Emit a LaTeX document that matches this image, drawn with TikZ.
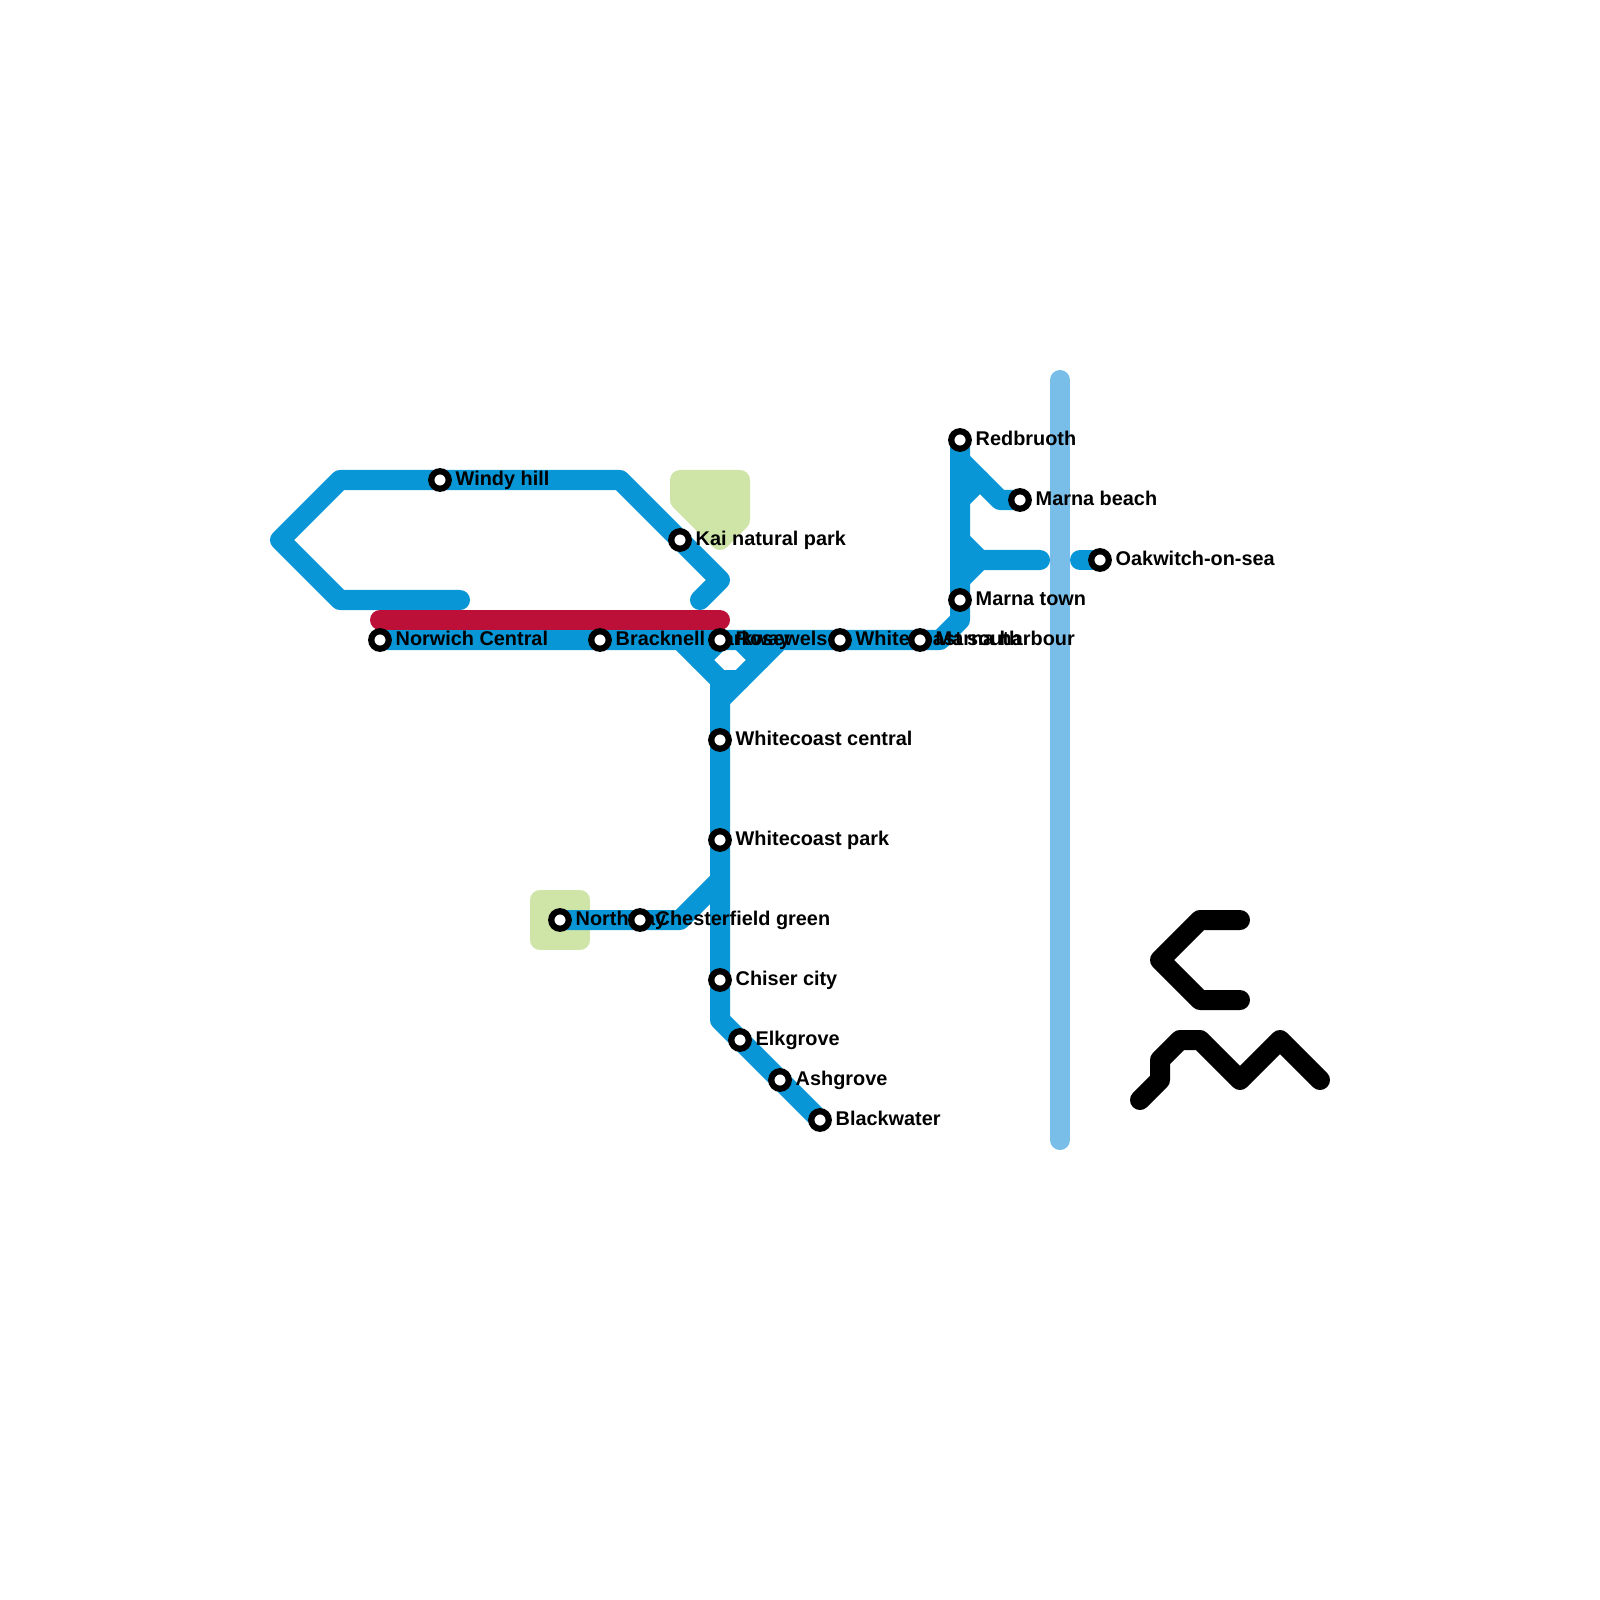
\documentclass[tikz,border=0pt]{standalone}
\usepackage{fontspec}
\setmainfont{Liberation Sans}
\definecolor{lineblue}{HTML}{0896D7}
\definecolor{linered}{HTML}{BD1038}
\definecolor{riverblue}{HTML}{79BDE9}
\definecolor{parkgreen}{HTML}{CFE4A7}
\tikzset{
  x=0.01cm,y=-0.01cm,
  route/.style={line width=0.2cm,line cap=round,line join=round},
  park/.style={draw=parkgreen,fill=parkgreen,line width=0.2cm,line join=round},
  stn/.style={circle,draw=black,fill=white,line width=0.062cm,minimum size=0.175cm,inner sep=0pt},
  lbl/.style={font=\fontsize{5.65pt}{7pt}\selectfont\bfseries,anchor=base west,inner sep=0pt,text=black,yshift=-0.055cm,xshift=0.15cm},
}
\begin{document}
\begin{tikzpicture}
\useasboundingbox (0,0) rectangle (1600,1600);
\draw[park] (680,480)--(740,480)--(740,520)--(720,540)--(680,500)--cycle;
\draw[park] (540,900)--(580,900)--(580,940)--(540,940)--cycle;
\draw[route,riverblue] (1060,380)--(1060,1140);
\begin{scope}[route,lineblue]
\draw (460,600)--(340,600)--(280,540)--(340,480)--(620,480)--(720,580)--(700,600);
\draw (380,640)--(940,640)--(960,620)--(960,440);
\draw (680,640)--(720,680)--(720,1020)--(820,1120);
\draw (720,640)--(700,660);
\draw (740,640)--(760,660);
\draw (780,640)--(720,700);
\draw (720,680)--(740,680);
\draw (560,920)--(680,920)--(720,880);
\draw (960,460)--(1000,500)--(1020,500);
\draw (960,500)--(980,480);
\draw (960,540)--(980,560)--(1040,560);
\draw (960,580)--(980,560);
\draw (1080,560)--(1100,560);
\end{scope}
\draw[route,linered] (380,620)--(720,620);
\begin{scope}[route,black]
\draw (1240,920)--(1200,920)--(1160,960)--(1200,1000)--(1240,1000);
\draw (1140,1100)--(1160,1080)--(1160,1060)--(1180,1040)--(1200,1040)--(1240,1080)--(1280,1040)--(1320,1080);
\end{scope}
\foreach \n/\x/\y/\t in {
 a/380/640/Norwich Central,
 b/440/480/Windy hill,
 c/600/640/Bracknell parkway,
 d/680/540/Kai natural park,
 e/720/640/Rosewels,
 f/840/640/Whitecoast south,
 g/920/640/Marna harbour,
 h/960/440/Redbruoth,
 i/1020/500/Marna beach,
 j/960/600/Marna town,
 k/1100/560/Oakwitch-on-sea,
 l/720/740/Whitecoast central,
 m/720/840/Whitecoast park,
 n/560/920/Northway,
 o/640/920/Chesterfield green,
 p/720/980/Chiser city,
 q/740/1040/Elkgrove,
 r/780/1080/Ashgrove,
 s/820/1120/Blackwater}{
 \node[stn] (st\n) at (\x,\y) {};
 \node[lbl] (lb\n) at (\x,\y) {\t};
}
\end{tikzpicture}
\end{document}
